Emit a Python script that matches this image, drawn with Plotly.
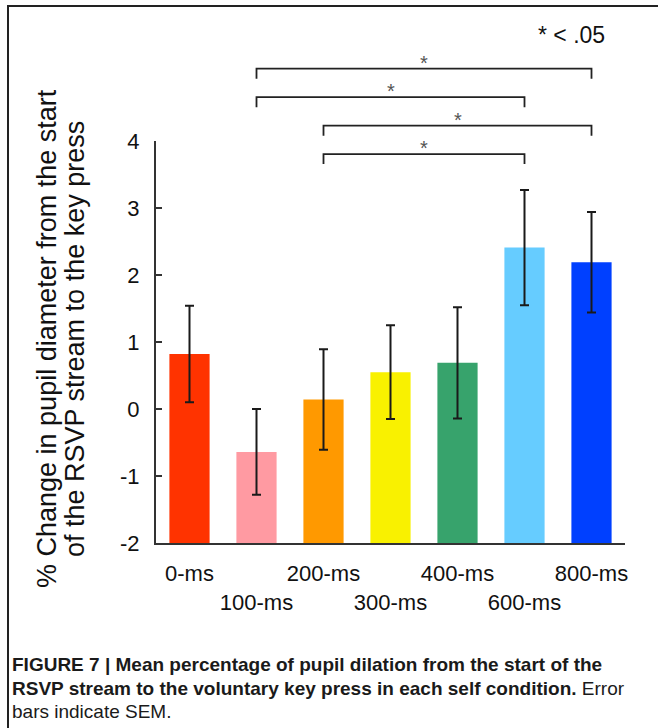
import plotly.graph_objects as go

# ---------------- data ----------------
conditions = ["0-ms", "100-ms", "200-ms", "300-ms", "400-ms", "600-ms", "800-ms"]
mean_change = [0.82, -0.64, 0.14, 0.55, 0.69, 2.41, 2.19]
sem_change = [0.72, 0.64, 0.75, 0.70, 0.83, 0.86, 0.75]
bar_colors = ["#FF3300", "#FF9AA2", "#FF9900", "#F9F100", "#37A36C", "#66CCFF", "#0040FF"]
y_ticks = [-2, -1, 0, 1, 2, 3, 4]
y_tick_labels = ["-2", "-1", "0", "1", "2", "3", "4"]
# significant pairwise comparisons (outermost first)
comparisons = [("100-ms", "800-ms"), ("100-ms", "600-ms"),
               ("200-ms", "800-ms"), ("200-ms", "600-ms")]
sig_label = "*"
legend_note = "* < .05"
y_title_lines = ["% Change in pupil diameter from the start",
                 "of the RSVP stream to the key press"]
caption_lines = [
    "<b>FIGURE 7 | Mean percentage of pupil dilation from the start of the</b>",
    "<b>RSVP stream to the voluntary key press in each self condition.</b> Error",
    "bars indicate SEM.",
]

# ---------------- layout geometry ----------------
W, H = 658, 728
ML, MR, MT, MB = 156, 33, 141, 185
PW, PH = W - ML - MR, H - MT - MB
YMIN, YMAX = -2, 4
FONT = "Liberation Sans, Arial, Helvetica, sans-serif"


def px_x(px):
    return (px - ML) / PW


def px_y(py):
    return (H - MB - py) / PH


def val_y(v):
    return (v - YMIN) / (YMAX - YMIN)


# alternate tick labels on two rows
tick_text = [c if i % 2 == 0 else "<br>" + c for i, c in enumerate(conditions)]

fig = go.Figure()
fig.add_trace(go.Bar(
    x=conditions, y=[m - YMIN for m in mean_change], base=YMIN, width=0.6,
    marker=dict(color=bar_colors, line=dict(width=0)),
    error_y=dict(type="data", array=sem_change, visible=True,
                 color="#1a1a1a", thickness=2, width=4.5),
))

shapes = []
annotations = []
top_level = 5.08
step = 0.425
drop = 0.15
for k, (a, b) in enumerate(comparisons):
    lvl = top_level - k * step
    xa, xb = conditions.index(a), conditions.index(b)
    shapes.append(dict(type="path", xref="x", yref="paper",
                       path=f"M {xa},{val_y(lvl - drop)} L {xa},{val_y(lvl)} "
                            f"L {xb},{val_y(lvl)} L {xb},{val_y(lvl - drop)}",
                       line=dict(color="#222222", width=1.8)))
    annotations.append(dict(xref="x", yref="paper", x=(xa + xb) / 2, y=val_y(lvl),
                            text=sig_label, showarrow=False, yanchor="middle", yshift=6,
                            font=dict(family=FONT, size=20, color="#555555")))

# frame lines (top and left)
shapes.append(dict(type="line", xref="paper", yref="paper",
                   x0=px_x(7), x1=px_x(W + 2), y0=px_y(6), y1=px_y(6),
                   line=dict(color="#222222", width=2)))
shapes.append(dict(type="line", xref="paper", yref="paper",
                   x0=px_x(8), x1=px_x(8), y0=px_y(6), y1=px_y(H + 2),
                   line=dict(color="#222222", width=2)))

annotations.append(dict(xref="paper", yref="paper", x=px_x(607), y=px_y(35),
                        xanchor="right", yanchor="middle", showarrow=False,
                        text=legend_note, font=dict(family=FONT, size=23, color="#111111")))

for line, xc in zip(y_title_lines, [47, 75]):
    annotations.append(dict(xref="paper", yref="paper", x=px_x(xc), y=px_y(339),
                            xanchor="center", yanchor="middle", textangle=-90, showarrow=False,
                            text=line, font=dict(family=FONT, size=27, color="#111111")))

cap_y = [664, 688, 711]
for line, yy in zip(caption_lines, cap_y):
    annotations.append(dict(xref="paper", yref="paper", x=px_x(10), y=px_y(yy),
                            xanchor="left", yanchor="middle", showarrow=False, align="left",
                            text=line,
                            font=dict(family=FONT, size=19, color="#1a1a1a")))

fig.update_layout(
    width=W, height=H,
    margin=dict(l=ML, r=MR, t=MT, b=MB, pad=0),
    paper_bgcolor="white", plot_bgcolor="white",
    showlegend=False,
    font=dict(family=FONT, color="#111111"),
    shapes=shapes, annotations=annotations,
    xaxis=dict(range=[-0.5, 6.5], tickvals=conditions, ticktext=tick_text, tickangle=0,
               showline=True, linecolor="#333333", linewidth=2, ticks="",
               showgrid=False, zeroline=False, tickfont=dict(size=22),
               ticklabelstandoff=10),
    yaxis=dict(range=[YMIN, YMAX], tickvals=y_ticks, ticktext=y_tick_labels,
               ticks="inside", ticklen=6,
               tickwidth=2, tickcolor="#333333", showline=True, linecolor="#333333",
               linewidth=2, showgrid=False, zeroline=False, tickfont=dict(size=22),
               ticklabelstandoff=10),
)

fig.write_html("out.html", config={"displayModeBar": False},
               post_script="document.body.style.margin='0';document.body.style.overflow='hidden';")
